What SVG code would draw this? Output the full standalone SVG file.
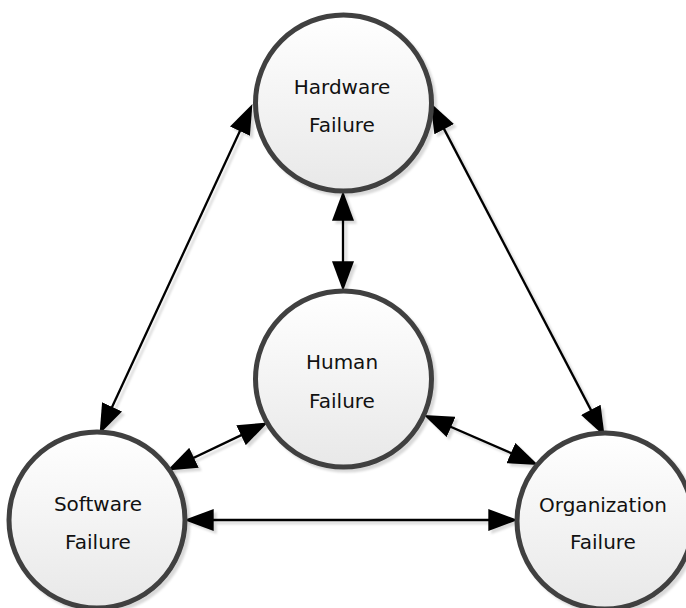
<svg xmlns="http://www.w3.org/2000/svg" width="686" height="608" viewBox="0 0 686 608">
  <defs>
    <linearGradient id="g" x1="0" y1="0" x2="0" y2="1">
      <stop offset="0" stop-color="#ffffff"/>
      <stop offset="1" stop-color="#e8e8e8"/>
    </linearGradient>
    <filter id="sh" x="-20%" y="-20%" width="140%" height="140%">
      <feDropShadow dx="3" dy="3" stdDeviation="1" flood-color="#000" flood-opacity="0.15"/>
    </filter>
    <marker id="ah" markerUnits="userSpaceOnUse" markerWidth="30" markerHeight="22" viewBox="0 0 27 20" refX="17" refY="10" orient="auto-start-reverse">
      <path d="M0,0 L27,10 L0,20 z" fill="#000"/>
    </marker>
  </defs>
  <style>
    .node circle { fill: url(#g); stroke: #404040; stroke-width: 5; filter: url(#sh); }
    .node text { font-family: "DejaVu Sans", "Liberation Sans", sans-serif; font-size: 20px; fill: #111; text-anchor: middle; }
    #connectors line { stroke: #000; stroke-width: 2.3; marker-start: url(#ah); marker-end: url(#ah); }
    #connectors { filter: url(#sh); }
  </style>
  <g id="connectors">
    <line x1="343" y1="202" x2="343" y2="280"/>
    <line x1="247.8" y1="114.1" x2="104.2" y2="423.9"/>
    <line x1="435.5" y1="112.6" x2="599.5" y2="426.4"/>
    <line x1="257.9" y1="427.2" x2="177.1" y2="465.8"/>
    <line x1="433.9" y1="419.5" x2="528.1" y2="460.5"/>
    <line x1="195" y1="520" x2="507" y2="520"/>
  </g>
  <g id="hardware" class="node">
    <circle cx="343.5" cy="103" r="88"/>
    <text x="342" y="94">Hardware</text>
    <text x="342" y="132">Failure</text>
  </g>
  <g id="human" class="node">
    <circle cx="343.5" cy="379" r="88"/>
    <text x="342" y="369">Human</text>
    <text x="342" y="408">Failure</text>
  </g>
  <g id="software" class="node">
    <circle cx="97" cy="520" r="88"/>
    <text x="98" y="511">Software</text>
    <text x="98" y="549">Failure</text>
  </g>
  <g id="organization" class="node">
    <circle cx="605" cy="521" r="88"/>
    <text x="603" y="512">Organization</text>
    <text x="603" y="549">Failure</text>
  </g>
</svg>
